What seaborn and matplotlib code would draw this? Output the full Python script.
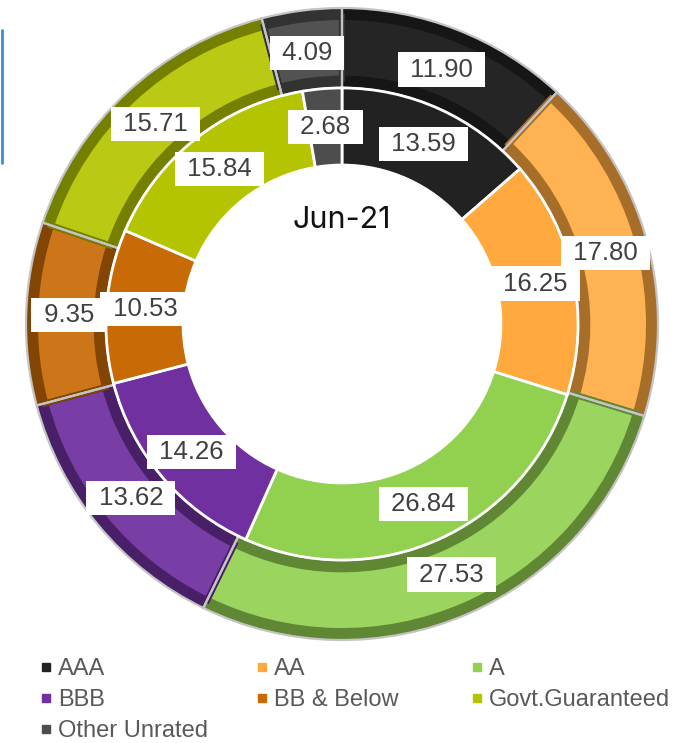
import matplotlib.pyplot as plt
import matplotlib.colors as mcolors
from matplotlib.lines import Line2D
import seaborn as sns

# rating buckets, outer ring vs inner ring (%)
categories = ['AAA', 'AA', 'A', 'BBB', 'BB & Below', 'Govt.Guaranteed', 'Other Unrated']
outer_values = [11.90, 17.80, 27.53, 13.62, 9.35, 15.71, 4.09]
inner_values = [13.59, 16.25, 26.84, 14.26, 10.53, 15.84, 2.68]
center_label = 'Jun-21'
base_hex = ['#222222', '#FFA93F', '#92D050', '#7030A0', '#C86A05', '#B4C400', '#4D4D4D']

sns.set_theme(style='white')
plt.rcParams['font.family'] = ['Liberation Sans', 'DejaVu Sans']

colors = sns.color_palette(base_hex)


def mix(c, other, t):
    c = mcolors.to_rgb(c)
    o = mcolors.to_rgb(other)
    return tuple(ci * (1 - t) + oi * t for ci, oi in zip(c, o))


# outer ring is a touch lighter on bright colours, frame is a darker shade
face_outer = [mix(c, 'white', 0.1 * max(c)) for c in colors]
dark_outer = [mix(c, 'black', 0.35) for c in colors]


def value_fmt(values):
    total = sum(values)
    return lambda p: f' {p * total / 100:.2f} '


W, H = 673, 743
fig = plt.figure(figsize=(W / 100, H / 100), dpi=100)
cx, cy, R = 342, 324, 316
ax = fig.add_axes([(cx - R) / W, 1 - (cy + R) / H, 2 * R / W, 2 * R / H])

label_style = dict(fontsize=18.5, color='#404040')
box = dict(boxstyle='square,pad=0.2', facecolor='white', edgecolor='none')

# outer ring: dark base, lighter inset for the bevel, grey outline
ax.pie(outer_values, colors=dark_outer, radius=1.0, startangle=90, counterclock=False,
       wedgeprops=dict(width=0.253, linewidth=0))
bevel, _ = ax.pie(outer_values, colors=face_outer, radius=0.972, startangle=90,
                  counterclock=False, wedgeprops=dict(width=0.196, linewidth=4.5))
for w, d in zip(bevel, dark_outer):
    w.set_edgecolor(d)
_, _, outer_txt = ax.pie(outer_values, colors=['none'] * len(outer_values), radius=1.0,
                         startangle=90, counterclock=False,
                         autopct=value_fmt(outer_values), pctdistance=0.865,
                         textprops=label_style,
                         wedgeprops=dict(width=0.253, linewidth=1.6, edgecolor='#C4C4C4',
                                         facecolor='none'))

# inner ring
_, _, inner_txt = ax.pie(inner_values, colors=colors, radius=0.747, startangle=90,
                         counterclock=False, autopct=value_fmt(inner_values),
                         pctdistance=0.837, textprops=label_style,
                         wedgeprops=dict(width=0.244, linewidth=2, edgecolor='white'))

for t in list(outer_txt) + list(inner_txt):
    t.set_bbox(box)
    t.set_zorder(10)

ax.text(0, 0.33, center_label, ha='center', va='center', fontsize=22,
        family=['Inter', 'DejaVu Sans'], color='#111111')
ax.set_xlim(-1, 1)
ax.set_ylim(-1, 1)
ax.axis('off')

# thin blue accent at the left edge
fig.add_artist(Line2D([1.5 / W, 1.5 / W], [1 - 30 / H, 1 - 163 / H], color='#3B8FCB',
                      lw=2, transform=fig.transFigure))

# legend laid out row by row in three columns
col_x = [46, 262, 477]
for i, x in enumerate(col_x):
    names = categories[i::3]
    cols = colors[i::3]
    handles = [Line2D([], [], marker='s', linestyle='none', markersize=5.5,
                      markerfacecolor=c, markeredgecolor=c, label=n)
               for n, c in zip(names, cols)]
    fig.legend(handles=handles, loc='upper left',
               bbox_to_anchor=((x - 7) / W, 1 - 658 / H), frameon=False,
               fontsize=17, labelcolor='#595959', handlelength=0.6,
               handletextpad=0.2, labelspacing=0.38, borderpad=0, borderaxespad=0)

fig.savefig('out.png', dpi=100)
